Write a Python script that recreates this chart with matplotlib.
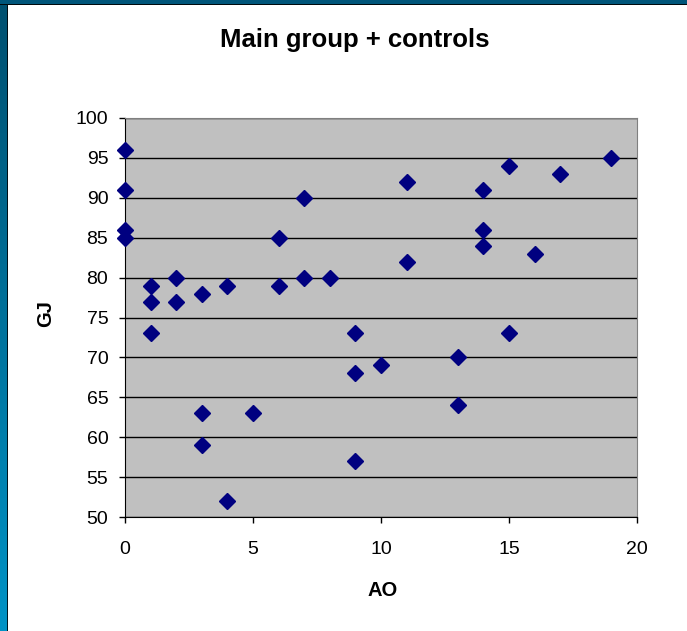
import numpy as np
import matplotlib
matplotlib.use("Agg")
import matplotlib.pyplot as plt

plt.rcParams['font.family'] = ['Liberation Sans', 'DejaVu Sans']

ao = [0, 0, 0, 0, 1, 1, 1, 2, 2, 3, 3, 3, 4, 4, 5, 6, 6, 7, 7, 8,
      9, 9, 9, 10, 11, 11, 13, 13, 14, 14, 14, 15, 15, 16, 17, 19]
gj = [96, 91, 86, 85, 79, 77, 73, 80, 77, 78, 63, 59, 79, 52, 63, 85, 79, 90, 80, 80,
      73, 68, 57, 69, 92, 82, 70, 64, 91, 86, 84, 94, 73, 83, 93, 95]
x_ticks = [0, 5, 10, 15, 20]
y_ticks = list(range(50, 101, 5))

W, H = 687, 631
fig = plt.figure(figsize=(W / 100, H / 100), dpi=100)
fig.patch.set_facecolor('white')

# blue frame: gradient strip on the left, dark strip on top
left = fig.add_axes([0, 0, 8 / W, 1])
grad = np.linspace(0, 1, 256).reshape(-1, 1)
cmap = matplotlib.colors.LinearSegmentedColormap.from_list('frame', ['#0093C6', '#005070'])
left.imshow(grad, aspect='auto', cmap=cmap, origin='lower', extent=[0, 1, 0, 1])
left.axvline(0.94, color='black', lw=1.2)
left.axis('off')
top = fig.add_axes([0, 1 - 5 / H, 1, 5 / H])
top.set_facecolor('#00557A')
top.axhline(0.0, color='black', lw=2)
top.set_xticks([])
top.set_yticks([])
for s in top.spines.values():
    s.set_visible(False)

ax = fig.add_axes([125 / W, 1 - 517 / H, 512 / W, 399 / H])
ax.set_facecolor('#C0C0C0')
ax.plot(ao, gj, linestyle='none', marker='D', markersize=8.3, color='#000080', clip_on=False, zorder=3)
ax.set_xlim(0, 20)
ax.set_ylim(50, 100)
ax.set_xticks(x_ticks)
ax.set_yticks(y_ticks)
ax.yaxis.grid(True, color='black', lw=1)
ax.set_axisbelow(True)
ax.tick_params(direction='out', length=4.5, width=1, labelsize=14, colors='black')
ax.tick_params(axis='x', pad=13)
ax.tick_params(axis='y', pad=7.5)
ax.spines['left'].set_color('black')
ax.spines['bottom'].set_color('black')
ax.spines['top'].set_color('#808080')
ax.spines['right'].set_color('#808080')

fig.text(355 / W, 1 - 40 / H, 'Main group + controls', ha='center', va='center',
         fontsize=18.5, fontweight='bold')
fig.text(383 / W, 1 - 590 / H, 'AO', ha='center', va='center', fontsize=14.5, fontweight='bold')
fig.text(46 / W, 1 - 314 / H, 'GJ', ha='center', va='center', fontsize=14.5, fontweight='bold', rotation=90)

fig.savefig('out.png', dpi=100)
